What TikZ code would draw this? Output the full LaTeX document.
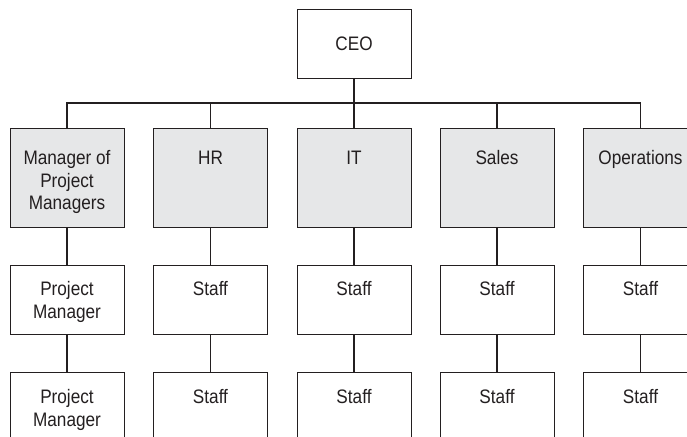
\documentclass[tikz,border=0pt]{standalone}
\usepackage{fontspec}
\setmainfont{Liberation Sans}[FakeStretch=0.88]
\usepackage{tikz}
\definecolor{ink}{RGB}{35,31,32}
\definecolor{deptfill}{RGB}{230,231,232}

\begin{document}
\begin{tikzpicture}[x=1bp,y=-1bp,
    font=\fontsize{19.6}{22.6}\selectfont,
    every node/.style={text=ink},
    unit/.style={rectangle,draw=ink,line width=0.9bp,minimum width=114bp,minimum height=69bp,inner sep=0pt},
    dept/.style={unit,fill=deptfill,minimum height=99bp},
    txt/.style={anchor=north,yshift=#1,align=center,inner sep=0pt},
    link/.style={draw=ink,line width=1.3bp}]
    \useasboundingbox (0,0) rectangle (687,437);
    \clip (0,0) rectangle (687,437);
    % top
    \node[unit] (ceo) at (354,43.5) {CEO};
    \coordinate (bar) at (0,103);
    % departments
    \node[dept,label={[txt=-23bp]north:{Manager of\\Project\\Managers}}] (mpm) at (67,177.5) {};
    \node[dept,label={[txt=-23bp]north:HR}] (hr) at (210.5,177.5) {};
    \node[dept,label={[txt=-23bp]north:IT}] (it) at (354,177.5) {};
    \node[dept,label={[txt=-23bp]north:Sales}] (sales) at (497,177.5) {};
    \node[dept,label={[txt=-23bp]north:Operations}] (ops) at (640.5,177.5) {};
    % second row
    \node[unit,label={[txt=-17bp]north:{Project\\Manager}}] (pm1) at (67,299.5) {};
    \node[unit,label={[txt=-17bp]north:Staff}] (hr1) at (210.5,299.5) {};
    \node[unit,label={[txt=-17bp]north:Staff}] (it1) at (354,299.5) {};
    \node[unit,label={[txt=-17bp]north:Staff}] (sl1) at (497,299.5) {};
    \node[unit,label={[txt=-17bp]north:Staff}] (op1) at (640.5,299.5) {};
    % third row
    \node[unit,label={[txt=-18bp]north:{Project\\Manager}}] (pm2) at (67,406.5) {};
    \node[unit,label={[txt=-18bp]north:Staff}] (hr2) at (210.5,406.5) {};
    \node[unit,label={[txt=-18bp]north:Staff}] (it2) at (354,406.5) {};
    \node[unit,label={[txt=-18bp]north:Staff}] (sl2) at (497,406.5) {};
    \node[unit,label={[txt=-18bp]north:Staff}] (op2) at (640.5,406.5) {};
    % connectors
    \path[link] (ceo.south) -- (ceo.south |- bar);
    \path[link] (mpm.north) -- (mpm.north |- bar) -- (ops.north |- bar) -- (ops.north);
    \path[link] (hr.north) -- (hr.north |- bar);
    \path[link] (it.north) -- (it.north |- bar);
    \path[link] (sales.north) -- (sales.north |- bar);
    \path[link] (mpm) -- (pm1);
    \path[link] (pm1) -- (pm2);
    \path[link] (hr) -- (hr1);
    \path[link] (hr1) -- (hr2);
    \path[link] (it) -- (it1);
    \path[link] (it1) -- (it2);
    \path[link] (sales) -- (sl1);
    \path[link] (sl1) -- (sl2);
    \path[link] (ops) -- (op1);
    \path[link] (op1) -- (op2);
  \end{tikzpicture}
\end{document}
